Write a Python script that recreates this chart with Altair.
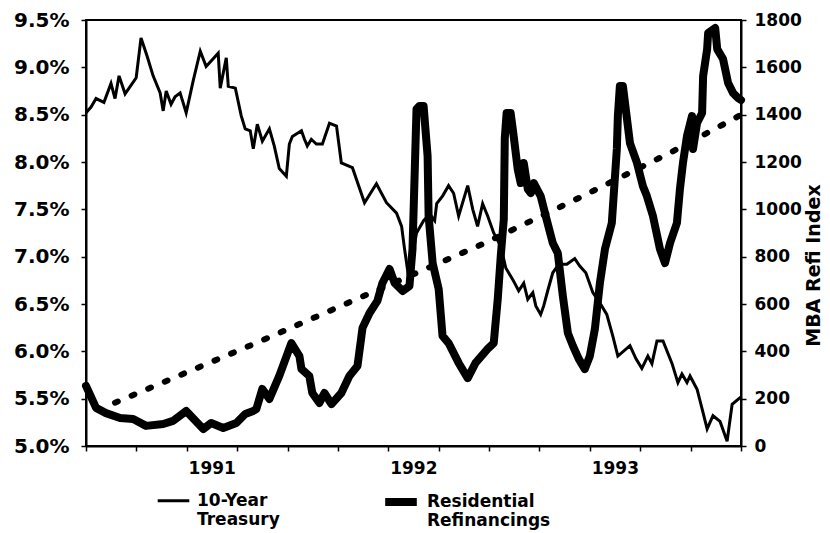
import altair as alt
import pandas as pd

# ---- data ----
treas_year = [1990.50, 1990.525, 1990.55, 1990.589, 1990.624, 1990.644, 1990.664, 1990.694, 1990.749, 1990.773,
              1990.803, 1990.833, 1990.868, 1990.883, 1990.898, 1990.922, 1990.942, 1990.967, 1990.997, 1991.032,
              1991.067, 1991.096, 1991.156, 1991.166, 1991.196, 1991.206, 1991.241, 1991.270, 1991.290, 1991.315,
              1991.330, 1991.350, 1991.375, 1991.410, 1991.434, 1991.459, 1991.494, 1991.509, 1991.524, 1991.569,
              1991.584, 1991.598, 1991.618, 1991.643, 1991.673, 1991.708, 1991.743, 1991.767, 1991.822, 1991.882,
              1991.941, 1991.991, 1992.041, 1992.066, 1992.080, 1992.095, 1992.120, 1992.140, 1992.175, 1992.205,
              1992.230, 1992.240, 1992.269, 1992.299, 1992.324, 1992.349, 1992.394, 1992.419, 1992.443, 1992.468,
              1992.493, 1992.523, 1992.558, 1992.583, 1992.617, 1992.647, 1992.672, 1992.692, 1992.717, 1992.732,
              1992.756, 1992.771, 1992.791, 1992.816, 1992.846, 1992.886, 1992.925, 1992.950, 1992.980, 1993.015,
              1993.050, 1993.084, 1993.114, 1993.139, 1993.199, 1993.229, 1993.258, 1993.288, 1993.308, 1993.333,
              1993.363, 1993.408, 1993.437, 1993.457, 1993.482, 1993.497, 1993.532, 1993.562, 1993.582, 1993.611,
              1993.646, 1993.681, 1993.706, 1993.750]
treas_rate = [8.52, 8.58, 8.67, 8.63, 8.83, 8.67, 8.91, 8.72, 8.89, 9.31,
              9.12, 8.91, 8.73, 8.54, 8.75, 8.61, 8.69, 8.73, 8.52, 8.86,
              9.17, 9.01, 9.15, 8.78, 9.10, 8.80, 8.78, 8.49, 8.35, 8.33,
              8.14, 8.40, 8.22, 8.35, 8.17, 7.93, 7.85, 8.19, 8.27, 8.33,
              8.24, 8.17, 8.24, 8.19, 8.19, 8.41, 8.38, 7.99, 7.94, 7.57,
              7.77, 7.57, 7.46, 7.32, 7.09, 6.87, 7.01, 7.25, 7.38, 7.45,
              7.38, 7.56, 7.64, 7.75, 7.67, 7.43, 7.75, 7.50, 7.32, 7.56,
              7.43, 7.25, 7.11, 6.88, 6.76, 6.64, 6.72, 6.55, 6.62, 6.48,
              6.39, 6.48, 6.64, 6.83, 6.92, 6.92, 6.98, 6.90, 6.83, 6.62,
              6.51, 6.39, 6.16, 5.95, 6.06, 5.92, 5.82, 5.95, 5.87, 6.11,
              6.11, 5.87, 5.67, 5.76, 5.67, 5.74, 5.60, 5.35, 5.18, 5.32,
              5.26, 5.05, 5.44, 5.52]

refi_year = [1990.50, 1990.55, 1990.599, 1990.669, 1990.734, 1990.798, 1990.883, 1990.932, 1990.997, 1991.082,
             1991.121, 1991.181, 1991.246, 1991.290, 1991.330, 1991.345, 1991.375, 1991.410, 1991.459, 1991.519,
             1991.559, 1991.569, 1991.608, 1991.623, 1991.658, 1991.683, 1991.718, 1991.767, 1991.807, 1991.847,
             1991.872, 1991.907, 1991.946, 1991.971, 1992.006, 1992.031, 1992.071, 1992.105, 1992.120, 1992.140,
             1992.155, 1992.175, 1992.195, 1992.200, 1992.220, 1992.250, 1992.269, 1992.299, 1992.349, 1992.394,
             1992.433, 1992.493, 1992.523, 1992.543, 1992.558, 1992.573, 1992.578, 1992.587, 1992.607, 1992.622,
             1992.642, 1992.657, 1992.672, 1992.692, 1992.707, 1992.722, 1992.756, 1992.781, 1992.816, 1992.841,
             1992.866, 1992.891, 1992.916, 1992.945, 1992.975, 1993.000, 1993.025, 1993.050, 1993.075, 1993.109,
             1993.134, 1993.139, 1993.149, 1993.164, 1993.199, 1993.234, 1993.263, 1993.283, 1993.313, 1993.348,
             1993.373, 1993.398, 1993.432, 1993.447, 1993.462, 1993.482, 1993.507, 1993.512, 1993.532, 1993.557,
             1993.562, 1993.582, 1993.587, 1993.622, 1993.632, 1993.661, 1993.686, 1993.711, 1993.736, 1993.750]
refi_index = [254, 161, 139, 118, 114, 85, 93, 106, 148, 72,
              97, 76, 97, 135, 148, 156, 241, 199, 296, 435,
              380, 325, 296, 224, 182, 224, 177, 224, 296, 338,
              499, 562, 613, 689, 748, 689, 655, 676, 832, 1424,
              1437, 1437, 1225, 972, 773, 663, 465, 435, 351, 287,
              351, 410, 435, 621, 803, 959, 1301, 1407, 1407, 1310,
              1170, 1111, 1196, 1086, 1069, 1111, 1056, 972, 858, 815,
              634, 477, 423, 368, 325, 380, 494, 689, 832, 942,
              1255, 1394, 1521, 1521, 1280, 1196, 1099, 1056, 972, 832,
              773, 858, 942, 1086, 1196, 1310, 1394, 1255, 1365, 1407,
              1563, 1677, 1745, 1766, 1677, 1635, 1534, 1491, 1470, 1462]

trend_year = [1990.644, 1991.330, 1991.897, 1992.483, 1992.965, 1993.398, 1993.711, 1993.74]
trend_index = [183, 430, 641, 859, 1056, 1239, 1381, 1395]

quarter_ticks = [1990.5, 1990.75, 1991.0, 1991.25, 1991.5, 1991.75, 1992.0, 1992.25,
                 1992.5, 1992.75, 1993.0, 1993.25, 1993.5, 1993.75]
rate_ticks = [5.0, 5.5, 6.0, 6.5, 7.0, 7.5, 8.0, 8.5, 9.0, 9.5]
index_ticks = [0, 200, 400, 600, 800, 1000, 1200, 1400, 1600, 1800]

TREAS = "10-Year Treasury"
REFI = "Residential Refinancings"
FONT = "DejaVu Sans"

df_t = pd.DataFrame({"year": treas_year, "rate": treas_rate, "series": TREAS})
df_r = pd.DataFrame({"year": refi_year, "index": refi_index, "series": REFI})
df_tr = pd.DataFrame({"year": trend_year, "index": trend_index})

x_enc = alt.X(
    "year:Q",
    title=None,
    scale=alt.Scale(domain=[1990.5, 1993.75], nice=False, zero=False),
    axis=alt.Axis(
        values=quarter_ticks,
        labelExpr="datum.value % 1 == 0 ? format(datum.value, 'd') : ''",
        labelOffset=25,
        labelPadding=9,
        labelFlush=False,
        labelOverlap=False,
        labelBound=False,
        grid=False,
        tickSize=5,
    ),
)

sw = alt.StrokeWidth(
    "series:N",
    scale=alt.Scale(domain=[TREAS, REFI], range=[3, 8]),
    legend=alt.Legend(
        title=None,
        orient="none",
        legendX=70,
        legendY=462,
        direction="horizontal",
        symbolType="stroke",
        symbolSize=1000,
        symbolStrokeColor="black",
        labelExpr="split(datum.label, ' ')",
        labelOffset=6,
        columnPadding=89,
        labelBaseline="middle",
    ),
)

trend = alt.Chart(df_tr).mark_line(
    color="black", strokeWidth=6, strokeDash=[3, 15], strokeCap="round"
).encode(
    x=x_enc,
    y=alt.Y("index:Q", scale=alt.Scale(domain=[0, 1800], nice=False), axis=None),
)

treas = alt.Chart(df_t).mark_line(color="black", strokeJoin="miter").encode(
    x=x_enc,
    y=alt.Y(
        "rate:Q",
        scale=alt.Scale(domain=[5.0, 9.5], nice=False, zero=False),
        axis=alt.Axis(
            orient="left",
            values=rate_ticks,
            labelExpr="format(datum.value, '.1f') + '%'",
            labelFontSize=20,
            title=None,
            grid=False,
            tickSize=5,
            labelPadding=12,
        ),
    ),
    strokeWidth=sw,
)

refi = alt.Chart(df_r).mark_line(color="black", strokeJoin="round", strokeCap="round").encode(
    x=x_enc,
    y=alt.Y(
        "index:Q",
        scale=alt.Scale(domain=[0, 1800], nice=False),
        axis=alt.Axis(
            orient="right",
            values=index_ticks,
            format="d",
            title="MBA Refi Index",
            titleAngle=270,
            titleFontSize=19,
            titleX=72,
            titleY=245,
            titleAlign="center",
            titleBaseline="middle",
            grid=False,
            tickSize=5,
            labelPadding=8,
        ),
    ),
    strokeWidth=sw,
)

chart = alt.layer(trend, treas, refi).resolve_scale(y="independent").properties(
    width=655,
    height=426,
    autosize=alt.AutoSizeParams(type="none"),
    padding={"left": 78, "top": 12, "right": 81, "bottom": 87},
).configure_view(
    stroke="black", strokeWidth=2
).configure_axis(
    labelFont=FONT, labelFontWeight="bold", labelFontSize=17, labelColor="black",
    titleFont=FONT, titleFontWeight="bold", titleFontSize=17, titleColor="black",
    domainColor="black", domainWidth=2, tickColor="black", tickWidth=1.5,
).configure_legend(
    labelFont=FONT, labelFontWeight="bold", labelFontSize=17, labelColor="black",
)

chart.save("out.html", embed_options={"renderer": "svg", "actions": False})
